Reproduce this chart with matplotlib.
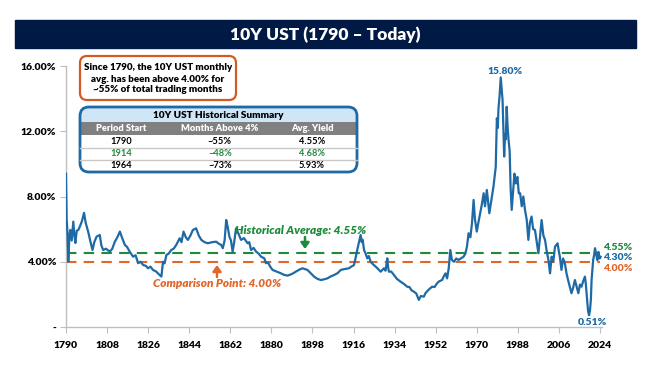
import matplotlib
matplotlib.use("Agg")
import matplotlib.pyplot as plt
from matplotlib.patches import FancyBboxPatch, Rectangle

# values (year, 10Y yield in %)
years = [1790.0, 1790.3, 1790.6, 1791.0, 1791.5, 1791.9, 1792.5, 1793.2, 1793.7, 1794.1,
         1794.7, 1795.4, 1796.2, 1797.0, 1797.9, 1798.6, 1799.7, 1800.6, 1801.6, 1802.4,
         1803.4, 1804.8, 1805.5, 1806.3, 1807.5, 1809.2, 1810.3, 1811.4, 1812.5, 1813.6,
         1814.5, 1815.8, 1816.8, 1817.9, 1819.4, 1820.5, 1821.6, 1822.7, 1823.8, 1825.0,
         1825.9, 1827.0, 1828.1, 1829.5, 1831.0, 1831.8, 1832.5, 1833.2, 1834.0, 1835.0,
         1836.1, 1837.2, 1838.3, 1839.8, 1840.6, 1841.5, 1842.5, 1843.4, 1844.5, 1845.6,
         1847.0, 1848.2, 1849.3, 1850.7, 1852.1, 1854.0, 1855.8, 1857.0, 1858.0, 1858.7,
         1859.5, 1860.2, 1860.9, 1861.6, 1862.3, 1863.0, 1863.7, 1864.5, 1865.5, 1866.7,
         1868.0, 1869.6, 1870.3, 1871.1, 1872.2, 1873.3, 1874.4, 1875.5, 1876.9, 1877.6,
         1878.5, 1879.5, 1880.5, 1882.3, 1884.2, 1885.5, 1887.1, 1889.0, 1890.7, 1892.0,
         1893.6, 1894.7, 1895.8, 1897.2, 1898.7, 1900.2, 1901.7, 1903.0, 1904.5, 1906.0,
         1907.5, 1909.0, 1910.4, 1912.0, 1914.0, 1915.0, 1916.2, 1917.0, 1917.6, 1918.4,
         1919.1, 1919.6, 1920.0, 1920.6, 1921.3, 1922.0, 1922.7, 1923.5, 1924.5, 1925.7,
         1926.8, 1927.9, 1928.6, 1929.3, 1930.0, 1930.8, 1931.1, 1931.5, 1932.5, 1933.7,
         1935.0, 1936.6, 1938.0, 1939.5, 1940.5, 1941.4, 1942.4, 1943.5, 1944.6, 1945.5,
         1946.8, 1947.5, 1949.0, 1950.4, 1951.5, 1952.6, 1953.5, 1954.8, 1955.5, 1956.3,
         1957.0, 1957.7, 1958.4, 1959.1, 1960.0, 1961.0, 1962.0, 1963.0, 1964.2, 1965.0,
         1965.7, 1966.4, 1967.2, 1967.9, 1968.6, 1969.2, 1970.0, 1970.7, 1971.5, 1972.2,
         1973.0, 1973.6, 1974.4, 1975.0, 1975.5, 1976.4, 1977.3, 1978.3, 1978.8, 1979.2,
         1979.5, 1980.0, 1980.5, 1980.9, 1981.3, 1981.7, 1982.0, 1982.4, 1982.7, 1983.1,
         1983.5, 1983.9, 1984.4, 1984.8, 1985.3, 1985.9, 1986.5, 1987.1, 1987.8, 1988.4,
         1989.0, 1989.7, 1990.4, 1991.1, 1991.9, 1992.6, 1993.3, 1994.0, 1994.7, 1995.5,
         1996.2, 1997.0, 1997.7, 1998.4, 1999.2, 1999.9, 2000.7, 2001.4, 2002.1, 2002.8,
         2003.5, 2004.3, 2005.4, 2006.0, 2006.4, 2007.1, 2007.8, 2008.6, 2009.3, 2010.0,
         2010.7, 2011.5, 2012.2, 2013.0, 2013.7, 2014.5, 2015.2, 2015.9, 2016.6, 2017.4,
         2017.8, 2018.1, 2018.5, 2018.8, 2019.2, 2019.6, 2020.0, 2020.3, 2020.7, 2021.0,
         2021.4, 2021.8, 2022.3, 2022.8, 2023.3, 2023.8, 2024.3]
yields = [9.4, 6.6, 5.9, 4.0, 5.6, 5.95, 5.3, 6.46, 5.6, 5.15,
          5.9, 5.95, 6.2, 6.5, 7.0, 6.4, 5.85, 5.3, 4.72, 5.2,
          5.54, 5.64, 5.0, 4.72, 4.8, 4.62, 4.8, 5.23, 5.5, 5.85,
          5.5, 5.03, 4.9, 4.62, 4.31, 4.4, 3.91, 4.0, 3.8, 3.75,
          3.6, 3.7, 3.5, 3.4, 3.19, 3.09, 4.0, 3.9, 4.42, 4.5,
          4.72, 4.8, 5.03, 5.44, 5.2, 5.85, 5.5, 5.34, 5.6, 5.95,
          6.05, 5.6, 5.34, 5.2, 5.13, 5.2, 5.23, 5.1, 5.03, 4.83,
          5.3, 6.56, 6.1, 5.54, 5.3, 4.62, 5.2, 6.05, 5.75, 5.34,
          5.45, 5.13, 5.2, 4.72, 4.85, 4.62, 4.5, 4.31, 4.21, 3.91,
          3.95, 3.7, 3.5, 3.4, 3.29, 3.2, 3.15, 3.25, 3.39, 3.5,
          3.6, 3.55, 3.5, 3.3, 3.09, 2.95, 2.88, 2.92, 2.98, 3.1,
          3.19, 3.3, 3.5, 3.55, 3.6, 3.7, 3.8, 4.3, 4.72, 5.2,
          5.64, 5.2, 5.35, 4.72, 4.5, 4.21, 4.35, 4.0, 3.85, 3.7,
          3.55, 3.39, 3.5, 3.6, 3.45, 4.21, 3.7, 3.39, 3.4, 3.19,
          2.95, 2.78, 2.65, 2.47, 2.45, 2.25, 2.17, 2.05, 1.66, 1.9,
          1.86, 2.07, 2.3, 2.47, 2.45, 2.68, 2.8, 2.88, 3.1, 3.29,
          2.98, 3.6, 4.72, 4.11, 4.0, 4.2, 4.11, 4.2, 4.31, 4.5,
          4.93, 5.75, 5.5, 6.36, 7.79, 6.6, 5.85, 6.4, 6.97, 7.5,
          8.2, 7.4, 8.4, 7.6, 6.97, 7.8, 8.6, 9.8, 12.8, 12.2,
          13.4, 14.2, 15.3, 14.6, 13.9, 12.0, 10.45, 11.8, 11.5, 13.5,
          12.3, 11.5, 10.8, 8.6, 7.18, 8.3, 9.4, 8.8, 9.2, 8.2,
          8.2, 7.4, 8.0, 7.2, 6.56, 5.34, 6.4, 6.77, 6.0, 5.95,
          5.3, 4.52, 5.5, 6.56, 5.6, 5.34, 4.6, 4.11, 3.29, 4.31,
          4.0, 4.93, 5.13, 4.6, 4.31, 3.5, 4.2, 3.91, 3.3, 2.88,
          2.5, 2.07, 2.4, 2.88, 2.5, 2.07, 2.6, 2.47, 2.8, 3.09,
          2.6, 2.07, 1.4, 0.95, 0.72, 1.0, 1.7, 2.88, 3.6, 4.11,
          4.4, 4.83, 4.5, 4.1, 4.6, 4.2, 4.3]

x_ticks = [1790, 1808, 1826, 1844, 1862, 1880, 1898, 1916, 1934, 1952, 1970, 1988, 2006, 2024]
y_ticks = [0, 4, 8, 12, 16]
y_labels = ["-", "4.00%", "8.00%", "12.00%", "16.00%"]

hist_avg = 4.55
comparison = 4.00

table_cols = ["Period Start", "Months Above 4%", "Avg. Yield"]
table_rows = [["1790", "~55%", "4.55%"],
              ["1914", "~48%", "4.68%"],
              ["1964", "~73%", "5.93%"]]

blue = "#1F6AA5"
green = "#1E8B3A"
orange = "#E0662A"
navy = "#001A45"

plt.rcParams["font.family"] = ["Lato", "DejaVu Sans"]

fig = plt.figure(figsize=(6.5, 3.7), dpi=100)
ax = fig.add_axes([66 / 650, 1 - 327 / 370, 536.3 / 650, 261 / 370])

ax.plot(years, yields, color=blue, linewidth=1.6, zorder=3)
ax.plot([1790, 2024], [hist_avg, hist_avg], color=green, linewidth=1.5, dashes=(5, 3.5), zorder=2)
ax.plot([1790, 2024], [comparison, comparison], color=orange, linewidth=1.5, dashes=(5, 3.5), zorder=2)

ax.set_xlim(1790, 2025)
ax.set_ylim(0, 16)
ax.set_xticks(x_ticks)
ax.set_xticklabels([str(y) for y in x_ticks], fontsize=7.5, fontweight="heavy")
ax.set_yticks(y_ticks)
ax.set_yticklabels(y_labels, fontsize=7.5, fontweight="heavy")
ax.tick_params(axis="both", color="#BFBFBF", length=4, width=0.8, pad=3)
ax.tick_params(axis="x", pad=6)
for s in ["top", "right"]:
    ax.spines[s].set_visible(False)
for s in ["left", "bottom"]:
    ax.spines[s].set_color("#BFBFBF")
    ax.spines[s].set_linewidth(1)

# overlay in pixel coordinates for the decorations
ov = fig.add_axes([0, 0, 1, 1])
ov.set_xlim(0, 650)
ov.set_ylim(370, 0)
ov.axis("off")

ov.add_patch(Rectangle((15, 20), 621, 28, color=navy))
ov.text(325, 34.5, "10Y UST (1790 \u2013 Today)", color="white", fontsize=12.5,
        fontweight="heavy", ha="center", va="center")

ov.add_patch(FancyBboxPatch((80, 56), 156, 44, boxstyle="round,pad=0,rounding_size=7",
                            facecolor="white", edgecolor="#D35A22", linewidth=1.6))
for i, line in enumerate(["Since 1790, the 10Y UST monthly",
                          "avg. has been above 4.00% for",
                          "~55% of total trading months"]):
    ov.text(158, 68 + i * 11, line, fontsize=7, fontweight="heavy", ha="center", va="center")

# summary table
tb = FancyBboxPatch((80, 107), 277, 65, boxstyle="round,pad=0,rounding_size=9",
                    facecolor="white", edgecolor="none")
ov.add_patch(tb)
r1 = Rectangle((78, 105), 281, 16.5, facecolor="#CFE6F7", edgecolor="none")
r2 = Rectangle((78, 121.5), 281, 13.5, facecolor="#808080", edgecolor="none")
for r in (r1, r2):
    ov.add_patch(r)
    r.set_clip_path(tb)
for yy in (147.5, 160):
    ov.plot([80, 357], [yy, yy], color="#C8C8C8", linewidth=1)
ov.add_patch(FancyBboxPatch((80, 107), 277, 65, boxstyle="round,pad=0,rounding_size=9",
                            facecolor="none", edgecolor=blue, linewidth=2))
ov.text(218, 115, "10Y UST Historical Summary", fontsize=7.2, fontweight="heavy",
        ha="center", va="center")
col_x = [121, 220, 312]
for cx, name in zip(col_x, table_cols):
    ov.text(cx, 128.5, name, fontsize=6.7, fontweight="heavy", color="white",
            ha="center", va="center")
for i, row in enumerate(table_rows):
    c = green if row[0] == "1914" else "black"
    for cx, val in zip(col_x, row):
        ov.text(cx, 141 + i * 12.5, val, fontsize=6.7, fontweight="bold", color=c,
                ha="center", va="center")

# annotations
ov.text(301, 230.5, "Historical Average: 4.55%", color=green, fontsize=8.5,
        fontweight="heavy", style="italic", ha="center", va="center")
ov.annotate("", xy=(305, 249), xytext=(305, 237),
            arrowprops=dict(arrowstyle="-|>,head_width=0.25,head_length=0.35", color=green,
                            lw=1.8, shrinkA=0, shrinkB=0))
ov.text(217, 283.5, "Comparison Point: 4.00%", color=orange, fontsize=8.5,
        fontweight="heavy", style="italic", ha="center", va="center")
ov.annotate("", xy=(217, 265), xytext=(217, 277),
            arrowprops=dict(arrowstyle="-|>,head_width=0.25,head_length=0.35", color=orange,
                            lw=1.8, shrinkA=0, shrinkB=0))

ov.text(505, 71, "15.80%", color=blue, fontsize=7.5, fontweight="heavy", ha="center", va="center")
ov.text(592, 322.5, "0.51%", color=blue, fontsize=7.5, fontweight="heavy", ha="center", va="center")
ov.text(603, 248, "4.55%", color=green, fontsize=7.5, fontweight="heavy", ha="left", va="center")
ov.text(603, 258, "4.30%", color=blue, fontsize=7.5, fontweight="heavy", ha="left", va="center")
ov.text(603, 268.5, "4.00%", color=orange, fontsize=7.5, fontweight="heavy", ha="left", va="center")

fig.savefig("out.png", dpi=100)
